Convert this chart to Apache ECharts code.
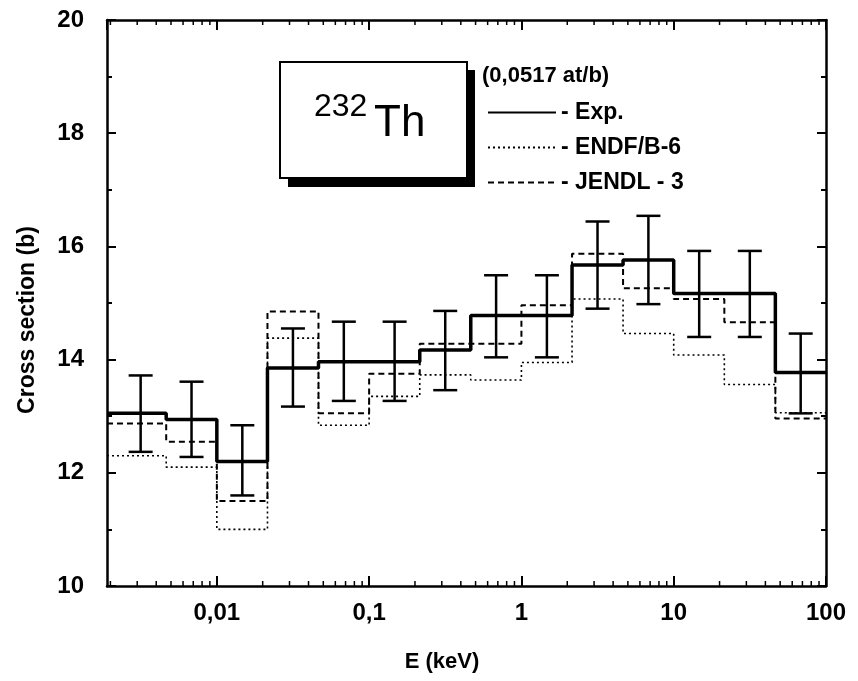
<!DOCTYPE html>
<html>
<head>
<meta charset="utf-8">
<title>232Th capture cross section</title>
<script src="https://cdn.jsdelivr.net/npm/echarts@6/dist/echarts.min.js"></script>
<style>
  html, body { margin: 0; padding: 0; background: #fff; }
  #chart { width: 858px; height: 681px; }
</style>
</head>
<body>
<div id="chart"></div>
<script>
// group boundaries in keV (first one cut at the axis minimum)
const edges = [0.0019, 0.00465, 0.01, 0.0215, 0.0465, 0.1, 0.215, 0.465, 1, 2.15, 4.65, 10, 21.5, 46.5, 100];
// group centres, where the error bars are drawn
const centers = [0.00316, 0.00682, 0.0147, 0.0316, 0.0682, 0.147, 0.316, 0.682, 1.47, 3.16, 6.82, 14.7, 31.6, 68.2];

const expValues = [13.05, 12.94, 12.2, 13.85, 13.96, 13.96, 14.17, 14.78, 14.78, 15.67, 15.76, 15.17, 15.17, 13.77];
const expLow = [12.37, 12.28, 11.6, 13.17, 13.27, 13.27, 13.46, 14.04, 14.04, 14.9, 14.98, 14.4, 14.4, 13.05];
const expHigh = [13.72, 13.61, 12.84, 14.55, 14.67, 14.67, 14.86, 15.49, 15.49, 16.44, 16.54, 15.92, 15.92, 14.46];
const endfValues = [12.3, 12.1, 11.0, 14.38, 12.84, 13.35, 13.73, 13.64, 13.95, 15.07, 14.46, 14.08, 13.56, 13.06];
const jendlValues = [12.87, 12.55, 11.5, 14.85, 13.05, 13.75, 14.28, 14.28, 14.96, 15.87, 15.26, 15.07, 14.66, 12.96];

const xTickValues = [0.01, 0.1, 1, 10, 100];
const xTickLabels = ['0,01', '0,1', '1', '10', '100'];
const minorSteps = [2, 3, 4, 5, 6, 7, 8, 9];
const decades = [0.001, 0.01, 0.1, 1, 10];

const xMin = 0.0019, xMax = 100, yMin = 10, yMax = 20;
const font = "'Liberation Sans', Arial, sans-serif";

function stepData (vals) {
  let pts = vals.map((v, i) => [edges[i], v]);
  pts.push([edges[edges.length - 1], vals[vals.length - 1]]);
  return pts;
}

let minorTicks = [];
decades.forEach(d => {
  minorSteps.forEach(m => {
    let v = d * m;
    if (v > xMin && v < xMax) minorTicks.push([v, yMin]);
  });
});

function xLabel (v) {
  let i = xTickValues.findIndex(t => Math.abs(t - v) / t < 1e-6);
  return i < 0 ? '' : xTickLabels[i];
}

const axisLine = { show: true, lineStyle: { color: '#000', width: 2.5 } };
const tickLabel = { color: '#000', fontSize: 24, fontWeight: 'bold', fontFamily: font };

let chart = echarts.init(document.getElementById('chart'));
chart.setOption({
  animation: false,
  backgroundColor: '#fff',
  grid: { left: 107, right: 32, top: 20, bottom: 95 },
  xAxis: [{
    type: 'log', logBase: 10, min: xMin, max: xMax, position: 'bottom',
    axisLine: axisLine,
    axisTick: { inside: true, length: 10, lineStyle: { color: '#000', width: 2 } },
    axisLabel: Object.assign({ formatter: xLabel, margin: 15, showMinLabel: false }, tickLabel),
    splitLine: { show: false }
  }, {
    type: 'log', logBase: 10, min: xMin, max: xMax, position: 'top',
    axisLine: axisLine,
    axisTick: { inside: true, length: 10, lineStyle: { color: '#000', width: 2 } },
    axisLabel: { show: false },
    splitLine: { show: false }
  }],
  yAxis: [{
    type: 'value', min: yMin, max: yMax, interval: 2, position: 'left',
    axisLine: axisLine,
    axisTick: { inside: true, length: 9, lineStyle: { color: '#000', width: 2 } },
    minorTick: { show: true, splitNumber: 2, length: 5, lineStyle: { color: '#000', width: 2 } },
    axisLabel: Object.assign({ margin: 23 }, tickLabel),
    splitLine: { show: false }
  }, {
    type: 'value', min: yMin, max: yMax, interval: 2, position: 'right',
    axisLine: axisLine,
    axisTick: { inside: true, length: 9, lineStyle: { color: '#000', width: 2 } },
    minorTick: { show: true, splitNumber: 2, length: 5, lineStyle: { color: '#000', width: 2 } },
    axisLabel: { show: false },
    splitLine: { show: false }
  }],
  legend: {
    orient: 'vertical', left: 482, top: 96,
    itemWidth: 68, itemHeight: 12, itemGap: 12,
    formatter: '- {name}',
    itemStyle: { opacity: 0 },
    textStyle: { color: '#000', fontSize: 23, fontWeight: 'bold', fontFamily: font },
    data: ['Exp.', 'ENDF/B-6', 'JENDL - 3']
  },
  graphic: [
    { type: 'rect', shape: { x: 288, y: 70, width: 187, height: 117 }, style: { fill: '#000' } },
    { type: 'rect', shape: { x: 280, y: 62, width: 187, height: 116 }, style: { fill: '#fff', stroke: '#000', lineWidth: 2 } },
    { type: 'text', x: 314, y: 107, style: { text: '232', font: '32px ' + font, fill: '#000', verticalAlign: 'middle' } },
    { type: 'text', x: 374, y: 124, style: { text: 'Th', font: '44px ' + font, fill: '#000', verticalAlign: 'middle' } },
    { type: 'text', x: 482, y: 76, style: { text: '(0,0517 at/b)', font: 'bold 22px ' + font, fill: '#000', verticalAlign: 'middle' } },
    { type: 'text', x: 28, y: 320, rotation: Math.PI / 2,
      style: { text: 'Cross section (b)', font: 'bold 23px ' + font, fill: '#000', align: 'center', verticalAlign: 'middle' } },
    { type: 'text', x: 442, y: 662, style: { text: 'E (keV)', font: 'bold 22px ' + font, fill: '#000', align: 'center', verticalAlign: 'middle' } }
  ],
  series: [
    {
      name: 'ENDF/B-6', type: 'line', step: 'end', symbol: 'none',
      data: stepData(endfValues),
      lineStyle: { color: '#000', width: 1.6, type: [2, 3] },
      itemStyle: { color: '#000' }
    },
    {
      name: 'JENDL - 3', type: 'line', step: 'end', symbol: 'none',
      data: stepData(jendlValues),
      lineStyle: { color: '#000', width: 2, type: [6, 4] },
      itemStyle: { color: '#000' }
    },
    {
      name: 'Exp.', type: 'line', step: 'end', symbol: 'none',
      data: stepData(expValues),
      lineStyle: { color: '#000', width: 3.5, type: 'solid' },
      itemStyle: { color: '#000' }, z: 3
    },
    {
      name: 'errors', type: 'custom', z: 4,
      data: centers.map((c, i) => [c, expLow[i], expHigh[i]]),
      encode: { x: 0, y: [1, 2] },
      renderItem: function (params, api) {
        let x = api.value(0);
        let lo = api.coord([x, api.value(1)]);
        let hi = api.coord([x, api.value(2)]);
        let half = 12;
        let style = { stroke: '#000', lineWidth: 2.5 };
        return {
          type: 'group',
          children: [
            { type: 'line', shape: { x1: lo[0], y1: lo[1], x2: hi[0], y2: hi[1] }, style: style },
            { type: 'line', shape: { x1: lo[0] - half, y1: lo[1], x2: lo[0] + half, y2: lo[1] }, style: style },
            { type: 'line', shape: { x1: hi[0] - half, y1: hi[1], x2: hi[0] + half, y2: hi[1] }, style: style }
          ]
        };
      }
    },
    {
      name: 'minor ticks', type: 'custom', silent: true,
      data: minorTicks,
      encode: { x: 0, y: 1 },
      renderItem: function (params, api) {
        let bottom = api.coord([api.value(0), yMin]);
        let top = api.coord([api.value(0), yMax]);
        let style = { stroke: '#000', lineWidth: 1.5 };
        return {
          type: 'group',
          children: [
            { type: 'line', shape: { x1: bottom[0], y1: bottom[1], x2: bottom[0], y2: bottom[1] - 5 }, style: style },
            { type: 'line', shape: { x1: top[0], y1: top[1], x2: top[0], y2: top[1] + 5 }, style: style }
          ]
        };
      }
    }
  ]
});
</script>
</body>
</html>
